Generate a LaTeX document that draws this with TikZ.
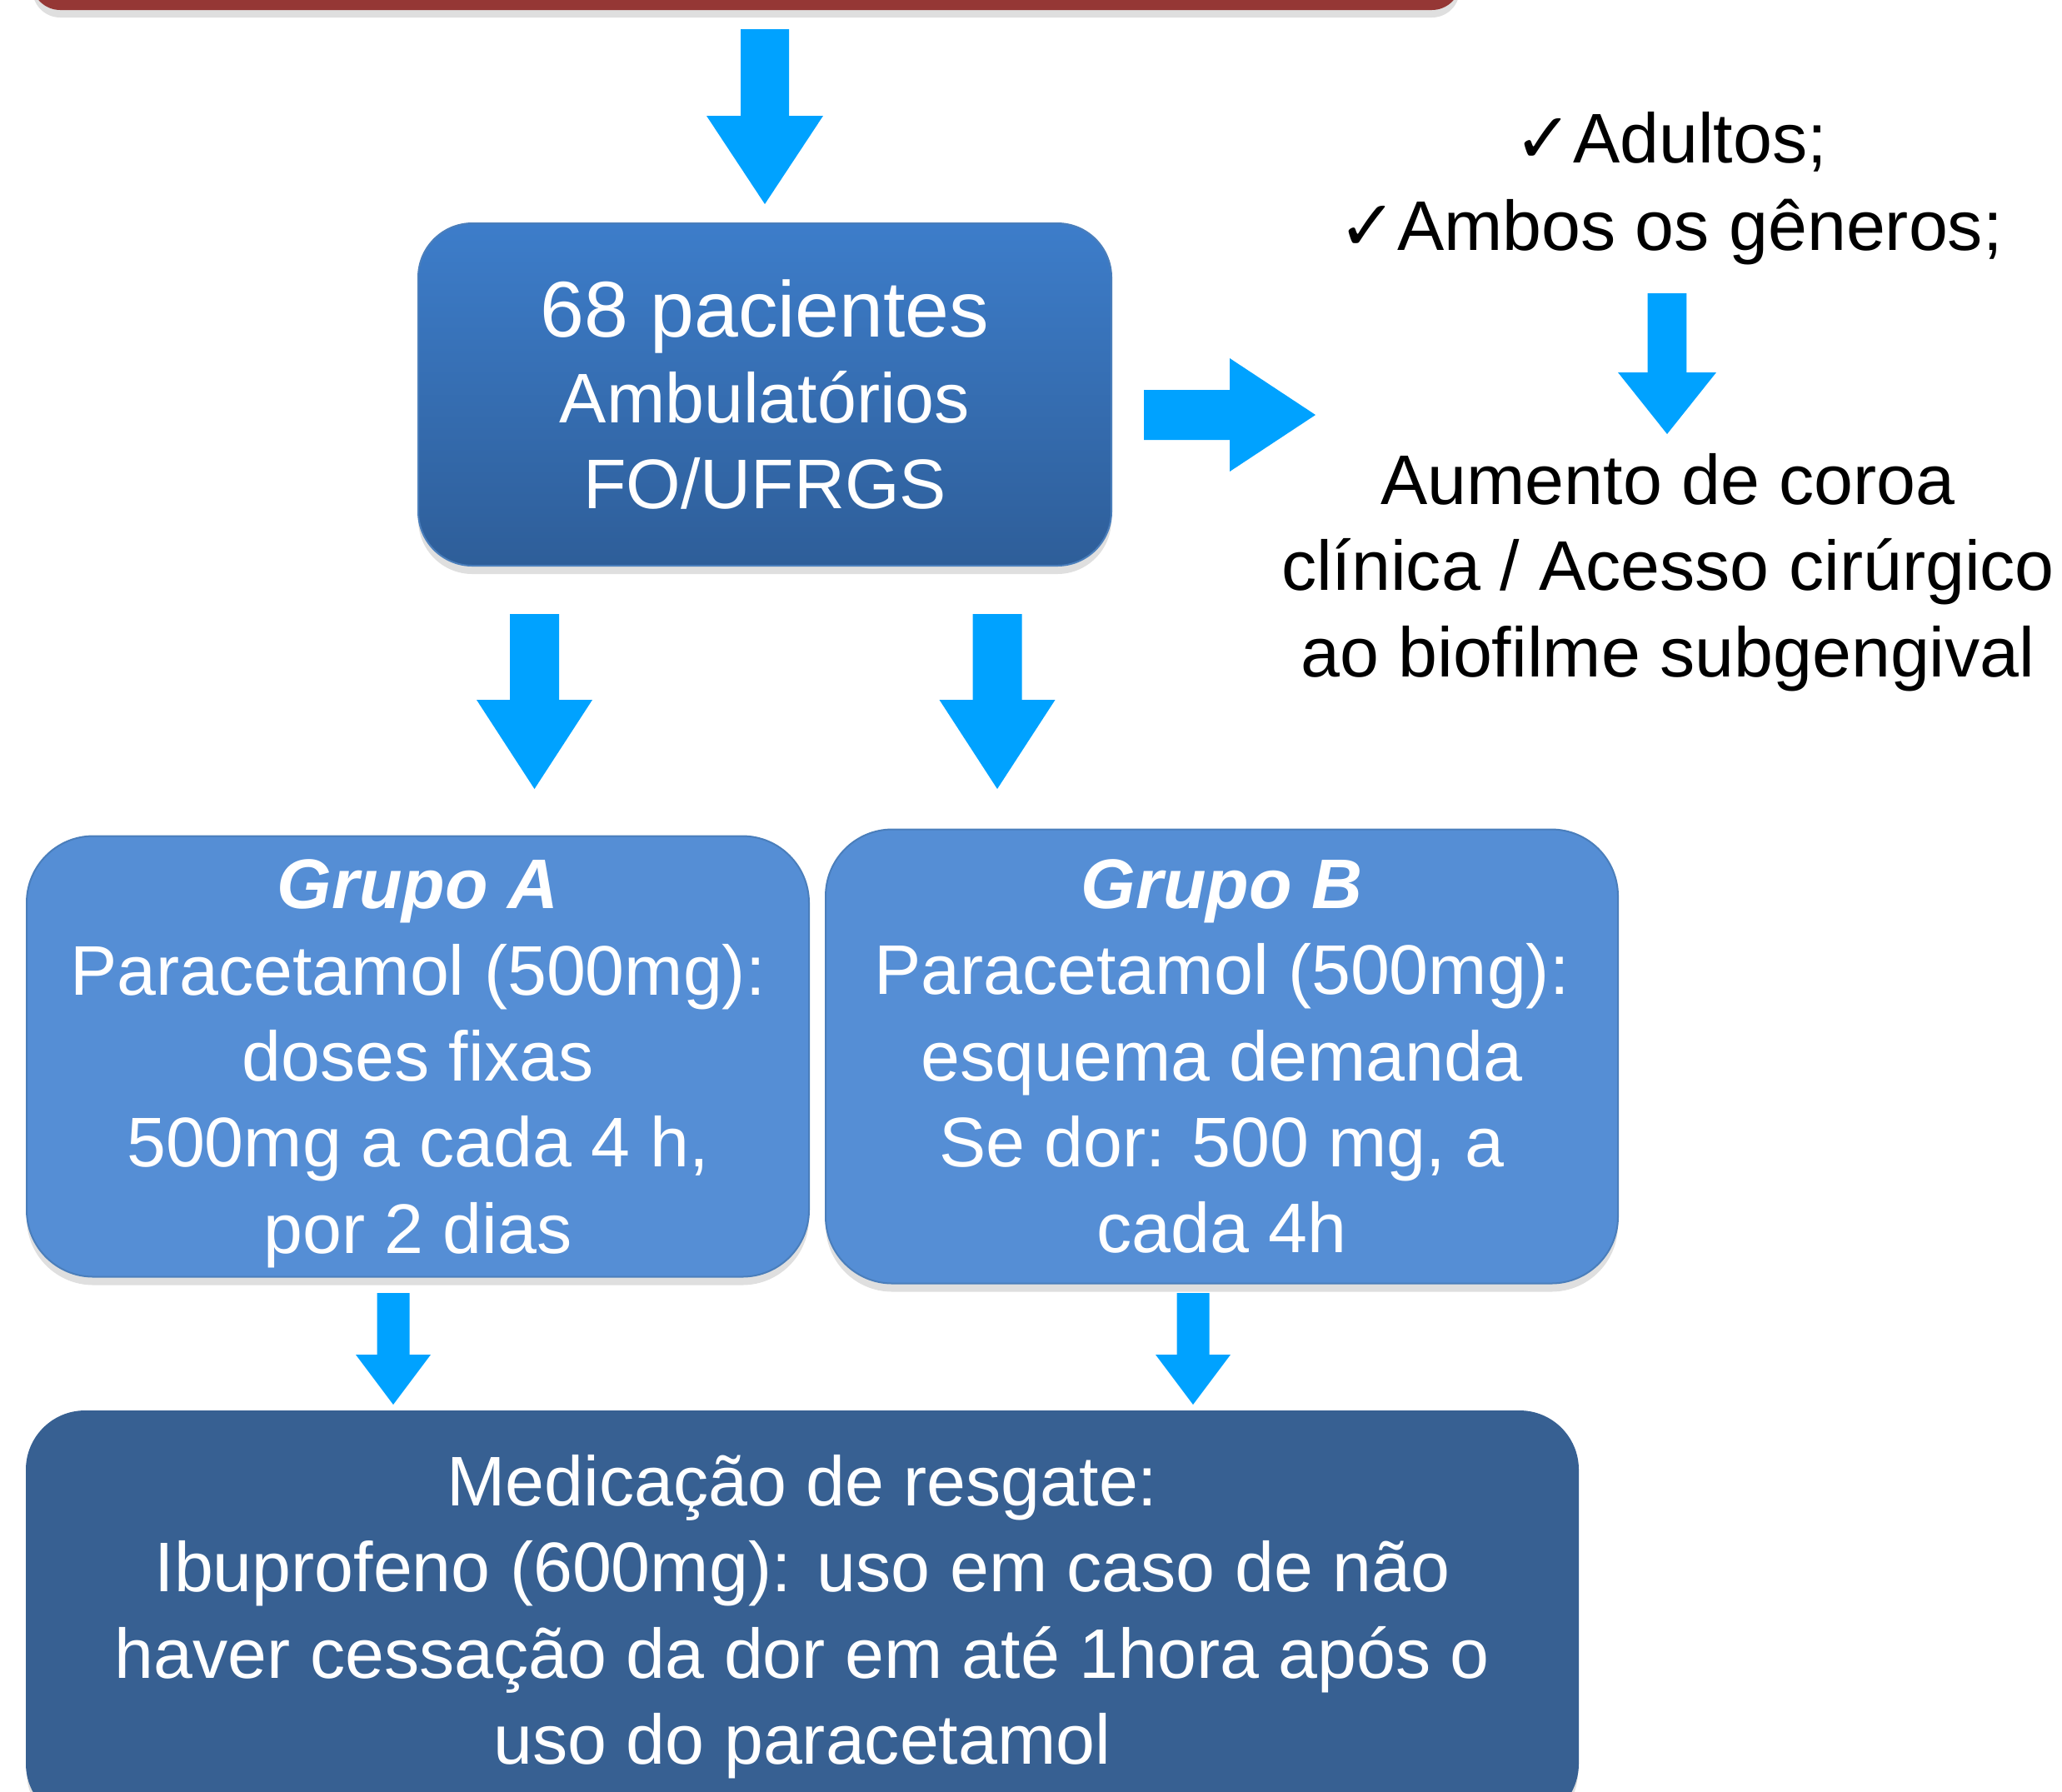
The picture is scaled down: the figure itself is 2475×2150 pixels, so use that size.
\documentclass[tikz,border=0pt]{standalone}
\usepackage{fontspec}
\setmainfont{Liberation Sans}
\newfontfamily\symfont{DejaVu Sans}
\usetikzlibrary{calc,positioning,shadows}
\definecolor{arrowblue}{RGB}{0,162,255}
\definecolor{topred}{RGB}{149,55,53}
\definecolor{boxtop}{RGB}{61,125,202}
\definecolor{boxbottom}{RGB}{46,94,153}
\definecolor{groupblue}{RGB}{85,142,213}
\definecolor{rescueblue}{RGB}{55,96,146}
\definecolor{boxedge}{RGB}{74,126,187}
\newcommand{\BlockArrow}[5]% #1=shaft half width, #2=head half width, #3=head length, #4 start, #5 tip
{\coordinate (tempa) at ($(#5)!#3!(#4)$);% base of the head
 \fill [arrowblue] ($(#4)!#1!90:(#5)$) -- ($(tempa)!#1!90:(#5)$) -- ($(tempa)!#2!90:(#5)$)
   -- (#5) -- ($(tempa)!#2!-90:(#5)$) -- ($(tempa)!#1!-90:(#5)$) -- ($(#4)!#1!-90:(#5)$) -- cycle;
}
\newcommand{\nodepth}[1]{\raisebox{0pt}[\height][0pt]{#1}}

\begin{document}
\begin{tikzpicture}[x=0.3pt,y=-0.3pt,
  txt/.style={align=center,font=\fontsize{25.3pt}{31pt}\selectfont},
  shadowed/.style={drop shadow={shadow xshift=0pt,shadow yshift=-3pt,opacity=0.25}},
  flowbox/.style={txt,shadowed,draw=boxedge,line width=0.6pt,text=white,inner sep=0pt}]

  \clip (0,0) rectangle (2475,2150);

  % boxes
  \node [flowbox, fill=topred, draw=topred, rounded corners=10pt,
         minimum width=513.9pt, minimum height=63.3pt] (study) at (895.5,-94.5) {};
  \node [flowbox, top color=boxtop, bottom color=boxbottom, rounded corners=19.5pt,
         minimum width=249.6pt, minimum height=123.3pt] (patients) at (918,473.5)
        {{\fontsize{28.5pt}{31.5pt}\selectfont 68 pacientes}\\Ambulatórios\\FO/UFRGS};
  \node [flowbox, fill=groupblue, rounded corners=24pt,
         minimum width=281.7pt, minimum height=158.7pt] (grpA) at (501.5,1268)
        {\textbf{\textit{Grupo A}}\\Paracetamol (500mg):\\doses fixas\\500mg a cada 4 h,\\\nodepth{por 2 dias}};
  \node [flowbox, fill=groupblue, rounded corners=24pt,
         minimum width=285.3pt, minimum height=163.5pt] (grpB) at (1466.5,1268)
        {\textbf{\textit{Grupo B}}\\Paracetamol (500mg):\\esquema demanda\\Se dor: 500 mg, a\\cada 4h};
  \node [flowbox, fill=rescueblue, draw=rescueblue, rounded corners=21pt,
         minimum width=558.6pt, minimum height=147.9pt] (rescue) at (963,1940.5)
        {Medicação de resgate:\\Ibuprofeno (600mg): uso em caso de não\\haver cessação da dor em até 1hora após o\\uso do paracetamol};

  % criteria on the right
  \node [txt, font=\fontsize{25.3pt}{31.5pt}\selectfont] (crit) at (2005,226)
        {{\symfont ✓}Adultos;\\{\symfont ✓}Ambos os gêneros;};
  \node [txt] (surgery) at (2002,687)
        {Aumento de coroa\\clínica / Acesso cirúrgico\\ao biofilme subgengival};

  % arrows
  \coordinate (a1s) at (918,35);     \coordinate (a1t) at (918,245);
  \coordinate (a2s) at (1373,498);   \coordinate (a2t) at (1579,498);
  \coordinate (a3s) at (2001,352);   \coordinate (a3t) at (2001,521);
  \coordinate (a4s) at (641.5,737);  \coordinate (a4t) at (641.5,947);
  \coordinate (a5s) at (1197,737);   \coordinate (a5t) at (1197,947);
  \coordinate (a6s) at (472,1552);   \coordinate (a6t) at (472,1686);
  \coordinate (a7s) at (1432,1552);  \coordinate (a7t) at (1432,1686);
  \BlockArrow{8.7pt}{21pt}{31.8pt}{a1s}{a1t}
  \BlockArrow{9pt}{20.4pt}{30.9pt}{a2s}{a2t}
  \BlockArrow{7pt}{17.7pt}{22.2pt}{a3s}{a3t}
  \BlockArrow{8.85pt}{20.85pt}{32.1pt}{a4s}{a4t}
  \BlockArrow{8.85pt}{20.85pt}{32.1pt}{a5s}{a5t}
  \BlockArrow{5.85pt}{13.5pt}{18pt}{a6s}{a6t}
  \BlockArrow{5.85pt}{13.5pt}{18pt}{a7s}{a7t}
\end{tikzpicture}
\end{document}
